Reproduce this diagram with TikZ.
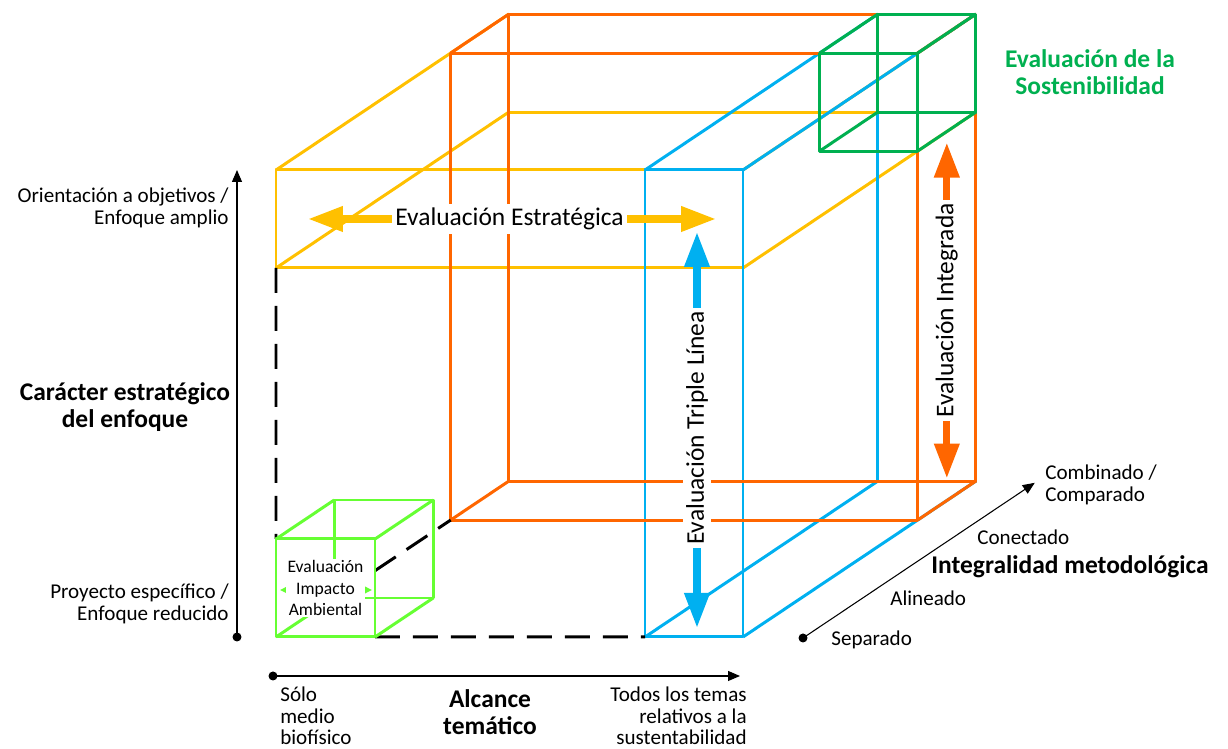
\documentclass[tikz,border=0pt]{standalone}
\usepackage{fontspec}
\setmainfont{Carlito}
\usetikzlibrary{arrows.meta}
\definecolor{eeyel}{HTML}{FFC000}
\definecolor{eeora}{HTML}{FF6600}
\definecolor{eeblu}{HTML}{00B0F0}
\definecolor{eegrn}{HTML}{00B050}
\definecolor{eelim}{HTML}{66FF33}

\begin{document}
\begin{tikzpicture}[x=0.02cm, y=0.02cm, z={(1.165cm,0.78cm)},
    wire/.style={line width=1.7pt, line join=round},
    dashline/.style={line width=1.7pt, dash pattern=on 0.5cm off 0.26cm},
    bigarrow/.style={line width=4pt,
      {Triangle[length=0.7cm,width=0.48cm]}-{Triangle[length=0.7cm,width=0.48cm]}},
    axline/.style={line width=0.6pt, -{Triangle[length=0.24cm,width=0.2cm]}},
    lbl/.style={font=\fontsize{12}{12.2}\selectfont, inner sep=0pt},
    ttl/.style={font=\fontsize{14.5}{15.5}\selectfont\bfseries, inner sep=0pt, align=center},
    evaltag/.style={fill=white, inner sep=2pt, font=\fontsize{14.5}{16}\selectfont}]
  \useasboundingbox (-276,-112) rectangle (952,637);

  % estrategica (yellow slab on top)
  \draw[wire, eeyel] (0,369,0) rectangle (467,467,0) (0,369,4) rectangle (467,467,4);
  \foreach \a/\b in {0/369, 467/369, 0/467, 467/467}
    \draw[wire, eeyel] (\a,\b,0) -- (\a,\b,4);

  % triple linea (blue column)
  \draw[wire, eeblu] (369,0,0) rectangle (467,467,0) (369,0,4) rectangle (467,467,4);
  \foreach \a/\b in {369/0, 467/0, 369/467, 467/467}
    \draw[wire, eeblu] (\a,\b,0) -- (\a,\b,4);

  % integrada (orange back plate)
  \draw[wire, eeora] (0,0,3) rectangle (467,467,3) (0,0,4) rectangle (467,467,4);
  \foreach \a/\b in {0/0, 467/0, 0/467, 467/467}
    \draw[wire, eeora] (\a,\b,3) -- (\a,\b,4);

  % sostenibilidad (green corner)
  \draw[wire, eegrn] (369,369,3) rectangle (467,467,3) (369,369,4) rectangle (467,467,4);
  \foreach \a/\b in {369/369, 467/369, 369/467, 467/467}
    \draw[wire, eegrn] (\a,\b,3) -- (\a,\b,4);

  % hidden edges of the big cube
  \draw[dashline] (0,369,0) -- (0,98,0) (99,0,0) -- (369,0,0) (0,0,1.7) -- (0,0,3);

  % impacto ambiental (small cube at the origin)
  \draw[wire, eelim] (0,0,0) rectangle (99,98,0) (0,0,1) rectangle (99,98,1);
  \foreach \a/\b in {0/0, 99/0, 0/98, 99/98}
    \draw[wire, eelim] (\a,\b,0) -- (\a,\b,1);
  \coordinate (eiaL) at (4,47);
  \coordinate (eiaR) at (96,47);
  \draw[eelim, line width=1pt,
    {Triangle[length=0.14cm,width=0.13cm]}-{Triangle[length=0.14cm,width=0.13cm]}] (eiaL) -- (eiaR);
  \node[fill=white, inner sep=1pt, align=center, font=\fontsize{10}{12}\selectfont]
    (eia) at (49.5,49,0) {Evaluación\\Impacto\\Ambiental};

  % big arrows
  \coordinate (estL) at (32,418);
  \coordinate (estR) at (440,418);
  \draw[bigarrow, eeyel] (estL) -- (estR);
  \node[evaltag] (est) at (233.5,418) {Evaluación Estratégica};

  \coordinate (tlB) at (421,9);
  \coordinate (tlT) at (421,405);
  \draw[bigarrow, eeblu] (tlB) -- (tlT);
  \node[evaltag, rotate=90] (tl) at (421,209) {Evaluación Triple Línea};

  \coordinate (intB) at (467,22,3.5);
  \coordinate (intT) at (467,358,3.5);
  \draw[bigarrow, eeora] (intB) -- (intT);
  \node[evaltag, rotate=90] (int) at (467,190,3.5) {Evaluación Integrada};

  \node[ttl, text=eegrn] (sost) at (814,565) {Evaluación de la\\Sostenibilidad};

  % vertical axis
  \coordinate (vA) at (-39,0);
  \coordinate (vB) at (-39,467);
  \fill (vA) circle[radius=0.09cm];
  \draw[axline] (vA) -- (vB);
  \node[lbl, anchor=east, align=right] (vhi) at (-47,429) {Orientación a objetivos /\\Enfoque amplio};
  \node[ttl] (vtit) at (-151,230) {Carácter estratégico\\del enfoque};
  \node[lbl, anchor=east, align=right] (vlo) at (-47,33) {Proyecto específico /\\Enfoque reducido};

  % horizontal axis
  \coordinate (hA) at (-3,-39);
  \coordinate (hB) at (464,-39);
  \fill (hA) circle[radius=0.09cm];
  \draw[axline] (hA) -- (hB);
  \node[lbl, anchor=west, align=left] (hlo) at (4,-79) {Sólo\\medio\\biofísico};
  \node[ttl] (htit) at (214,-75) {Alcance\\temático};
  \node[lbl, anchor=east, align=right] (hhi) at (471,-79) {Todos los temas\\relativos a la\\sustentabilidad};

  % depth axis
  \coordinate (dA) at (527,-1,0);
  \coordinate (dB) at (527,-1,3.98);
  \fill (dA) circle[radius=0.09cm];
  \draw[axline] (dA) -- (dB);
  \node[lbl, anchor=west] (d1) at (555,-3) {Separado};
  \node[lbl, anchor=west] (d2) at (614,39) {Alineado};
  \node[lbl, anchor=west] (d3) at (701,100) {Conectado};
  \node[lbl, anchor=west, align=left] (d4) at (769,152) {Combinado /\\Comparado};
  \node[ttl, anchor=west] (dtit) at (655,70) {Integralidad metodológica};
\end{tikzpicture}
\end{document}
